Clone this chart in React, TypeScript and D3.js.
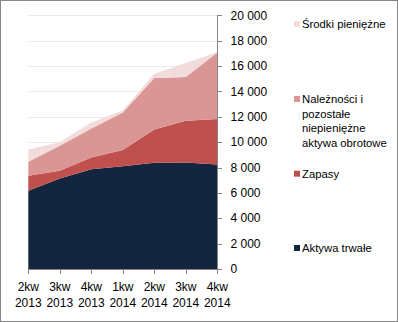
import React from "react";
import * as d3 from "d3";

const quarters = ["2kw", "3kw", "4kw", "1kw", "2kw", "3kw", "4kw"];
const years = ["2013", "2013", "2013", "2014", "2014", "2014", "2014"];
const aktywaTrwale = [6170, 7140, 7870, 8110, 8370, 8400, 8240];
const zapasy = [1180, 600, 920, 1280, 2630, 3280, 3590];
const naleznosci = [1100, 1970, 2290, 2950, 4060, 3460, 5230];
const srodki = [970, 290, 470, 180, 340, 1100, 50];
const yTicks = [0, 2000, 4000, 6000, 8000, 10000, 12000, 14000, 16000, 18000, 20000];

const seriesNames = ["Aktywa trwałe", "Zapasy", "Należności i pozostałe niepieniężne aktywa obrotowe", "Środki pieniężne"];
const seriesColors = ["#14263f", "#c0504d", "#d99694", "#f2dcdb"];

const W = 398;
const H = 322;
const FONT = "'Liberation Sans', Arial, sans-serif";

export default function App() {
  const x = d3.scalePoint<number>().domain(d3.range(quarters.length)).range([28.3, 217.3]);
  const y = d3.scaleLinear().domain([0, 20000]).range([269, 15.3]);

  const rows = quarters.map((_, i) => ({
    i,
    a: aktywaTrwale[i],
    z: zapasy[i],
    n: naleznosci[i],
    s: srodki[i],
  }));
  const stacked = d3.stack<any>().keys(["a", "z", "n", "s"])(rows);
  const area = d3
    .area<any>()
    .x((d) => x(d.data.i) as number)
    .y0((d) => y(d[0]))
    .y1((d) => y(d[1]));

  const fmt = (v: number) => d3.format(",")(v).replace(/,/g, " ");

  const legendItems = [
    { idx: 3, lines: ["Środki pieniężne"], y: 24 },
    { idx: 2, lines: ["Należności i", "pozostałe", "niepieniężne", "aktywa obrotowe"], y: 99 },
    { idx: 1, lines: ["Zapasy"], y: 173.7 },
    { idx: 0, lines: ["Aktywa trwałe"], y: 248 },
  ];

  return (
    <div style={{ position: "absolute", left: 0, top: 0 }}>
      <svg width={W} height={H} style={{ display: "block", background: "#fff" }} fontFamily={FONT}>
        <rect x={0.5} y={0.5} width={W - 1} height={H - 1} fill="#fff" stroke="#868686" />
        {yTicks.slice(1).map((t) => (
          <line key={t} x1={28.3} x2={217.3} y1={Math.round(y(t)) + 0.5} y2={Math.round(y(t)) + 0.5} stroke="#ebebeb" />
        ))}
        {stacked.map((s, k) => (
          <path key={k} d={area(s as any) || ""} fill={seriesColors[k]} />
        ))}
        {/* y axis */}
        <line x1={217.5} x2={217.5} y1={15} y2={269.5} stroke="#868686" />
        {yTicks.map((t) => (
          <g key={t}>
            <line x1={217} x2={222} y1={Math.round(y(t)) + 0.5} y2={Math.round(y(t)) + 0.5} stroke="#868686" />
            <text x={230.5} y={y(t)} dy="0.35em" fontSize={12} fill="#000">
              {fmt(t)}
            </text>
          </g>
        ))}
        {/* x axis */}
        <line x1={28} x2={217.5} y1={269.5} y2={269.5} stroke="#868686" />
        {quarters.map((q, i) => (
          <g key={i}>
            <line x1={Math.round(x(i) as number) + 0.5} x2={Math.round(x(i) as number) + 0.5} y1={269} y2={274} stroke="#868686" />
            <text x={x(i)} y={291} textAnchor="middle" fontSize={12} fill="#000">
              {q}
            </text>
            <text x={x(i)} y={306.5} textAnchor="middle" fontSize={12} fill="#000">
              {years[i]}
            </text>
          </g>
        ))}
        {/* legend */}
        {legendItems.map((item) => (
          <g key={item.idx}>
            <rect x={294} y={item.y - 3} width={6} height={6} fill={seriesColors[item.idx]} />
            {item.lines.map((l, j) => (
              <text key={j} x={302} y={item.y + j * 14.7} dy="0.35em" fontSize={11.3} fill="#000">
                {l}
              </text>
            ))}
          </g>
        ))}
      </svg>
    </div>
  );
}
